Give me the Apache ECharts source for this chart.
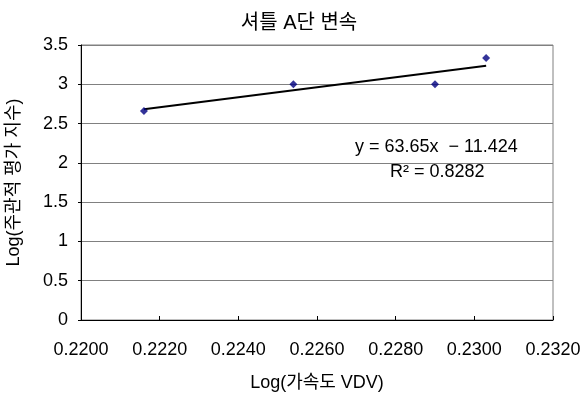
<!DOCTYPE html>
<html>
<head>
<meta charset="utf-8">
<script src="https://cdn.jsdelivr.net/npm/echarts@6/dist/echarts.min.js"></script>
<style>
html,body{margin:0;padding:0;background:#fff;}
#chart{width:580px;height:397px;}
</style>
</head>
<body>
<div id="chart"></div>
<script>
const chartTitle = '셔틀 A단 변속';
const xAxisName = 'Log(가속도 VDV)';
const yAxisName = 'Log(주관적 평가 지수)';
const xValues = [0.2216, 0.2254, 0.2290, 0.2303];
const yValues = [2.66, 3.00, 3.00, 3.335];
const trendSlope = [63.65];
const trendIntercept = [-11.424];
const rSquared = [0.8282];

const FONT = "'Liberation Sans', Arial, 'Noto Sans CJK KR', sans-serif";
const points = xValues.map((x, i) => [x, yValues[i]]);
const xMinData = Math.min(...xValues), xMaxData = Math.max(...xValues);
const trend = [xMinData, xMaxData].map(x => [x, trendSlope[0] * x + trendIntercept[0]]);

const chart = echarts.init(document.getElementById('chart'), null, {renderer: 'canvas'});
chart.setOption({
  animation: false,
  backgroundColor: '#fff',
  title: {
    text: chartTitle,
    left: 294, top: 8, textAlign: 'center',
    textStyle: {fontFamily: FONT, fontSize: 20, fontWeight: 'normal', color: '#000'}
  },
  grid: {left: 81, right: 27, top: 45, bottom: 77, containLabel: false, outerBoundsMode: 'none',
         show: true, borderColor: '#808080', borderWidth: 1},
  xAxis: {
    type: 'value', min: 0.22, max: 0.232, interval: 0.002,
    name: xAxisName, nameLocation: 'middle', nameGap: 54,
    nameTextStyle: {fontFamily: FONT, fontSize: 18, color: '#000'},
    axisLine: {show: true, onZero: false, lineStyle: {color: '#000', width: 1}},
    axisTick: {show: true, inside: true, length: 4, lineStyle: {color: '#000'}},
    axisLabel: {fontFamily: FONT, fontSize: 18, color: '#000', margin: 21, formatter: v => v.toFixed(4)},
    splitLine: {show: false}
  },
  yAxis: {
    type: 'value', min: 0, max: 3.5, interval: 0.5,
    name: yAxisName, nameLocation: 'middle', nameGap: 58, nameRotate: 90,
    nameTextStyle: {fontFamily: FONT, fontSize: 18, color: '#000'},
    axisLine: {show: true, lineStyle: {color: '#000', width: 1}},
    axisTick: {show: true, inside: false, length: 3, lineStyle: {color: '#000'}},
    axisLabel: {fontFamily: FONT, fontSize: 18, color: '#000', margin: 13},
    splitLine: {show: true, lineStyle: {color: '#808080', width: 1}}
  },
  graphic: [
    {type: 'text', left: 355, top: 138, style: {text: 'y = 63.65x  − 11.424', font: '18px ' + FONT, fill: '#000'}},
    {type: 'text', left: 390, top: 163, style: {text: 'R² = ' + rSquared[0].toFixed(4), font: '18px ' + FONT, fill: '#000'}}
  ],
  series: [
    {
      type: 'line', data: trend, symbol: 'none', silent: true,
      lineStyle: {color: '#000', width: 2}, z: 2
    },
    {
      type: 'scatter', data: points, symbol: 'diamond', symbolSize: 8,
      itemStyle: {color: '#000080'}, z: 3
    }
  ]
});
</script>
</body>
</html>
